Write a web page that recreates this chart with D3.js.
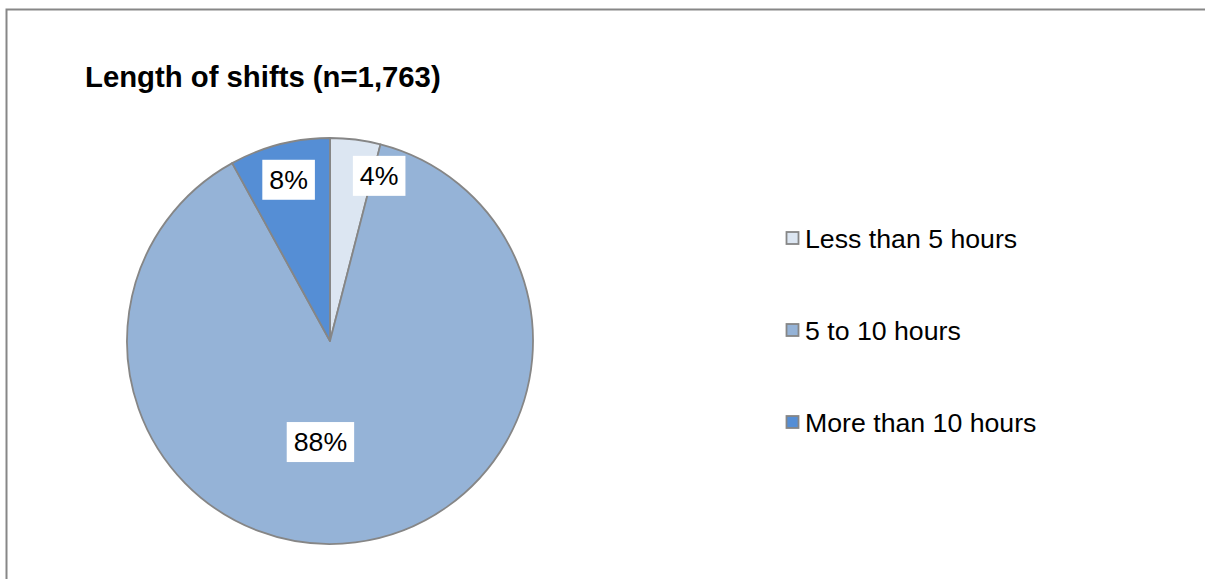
<!DOCTYPE html>
<html>
<head>
<meta charset="utf-8">
<script src="https://cdn.jsdelivr.net/npm/d3@7"></script>
<style>
  html, body { margin: 0; background: #fff; overflow: hidden; }
  svg { display: block; }
  text { font-family: Arial, "Liberation Sans", sans-serif; }
</style>
</head>
<body>
<div id="chart"></div>
<script>
// data
var categories = ["Less than 5 hours", "5 to 10 hours", "More than 10 hours"];
var values = [4, 88, 8];
var labels = ["4%", "88%", "8%"];
var colors = ["#dce6f2", "#95b3d7", "#558ed5"];

var width = 1205, height = 579;
var cx = 330, cy = 341, radius = 203;

var svg = d3.select("#chart")
    .append("svg")
    .attr("width", width)
    .attr("height", height);

// chart border: only top and left edges fall inside the picture
svg.append("path")
    .attr("d", "M6.5," + height + "V9.5H" + width)
    .attr("fill", "none")
    .attr("stroke", "#878787")
    .attr("stroke-width", 2);

svg.append("text")
    .attr("x", 85)
    .attr("y", 87)
    .attr("font-size", 29.3)
    .attr("font-weight", "bold")
    .attr("fill", "#000")
    .text("Length of shifts (n=1,763)");

var pie = d3.pie().sort(null).value(function (d) { return d; });
var arcs = pie(values);

var arc = d3.arc().innerRadius(0).outerRadius(radius);

var pieG = svg.append("g")
    .attr("transform", "translate(" + cx + "," + cy + ")");

pieG.selectAll("path")
    .data(arcs)
    .enter()
    .append("path")
    .attr("d", arc)
    .attr("fill", function (d, i) { return colors[i]; })
    .attr("stroke", "#868686")
    .attr("stroke-width", 1.8)
    .attr("stroke-linejoin", "round");

// data labels with white boxes
var labelSize = 26.7;
var lbl = pieG.selectAll(".lbl")
    .data(arcs)
    .enter()
    .append("g")
    .attr("class", "lbl")
    .attr("transform", function (d) {
        var span = d.endAngle - d.startAngle;
        var mid = (d.startAngle + d.endAngle) / 2;
        var r = span > Math.PI ? radius * 0.5 : radius * 0.82;
        // big slice: Excel nudges the label a bit past the middle
        if (span > Math.PI) mid += 0.22;
        var x = r * Math.sin(mid), y = -r * Math.cos(mid);
        return "translate(" + x + "," + y + ")";
    });

lbl.each(function (d, i) {
    var g = d3.select(this);
    var span = d.endAngle - d.startAngle;
    var t = g.append("text")
        .attr("font-size", labelSize)
        .attr("fill", "#000")
        .attr("dy", "0.35em")
        .text(labels[i]);
    var w = t.node().getComputedTextLength();
    // narrow slice: box starts at the anchor point
    var x0 = span < 0.3 ? 2 : -w / 2 - 7;
    t.attr("x", x0 + 7);
    g.insert("rect", "text")
        .attr("x", x0)
        .attr("y", -20)
        .attr("width", w + 14)
        .attr("height", 40)
        .attr("fill", "#fff");
});

// legend
var legendY = d3.scalePoint()
    .domain(categories)
    .range([238, 422]);

var legend = svg.append("g")
    .selectAll("g")
    .data(categories)
    .enter()
    .append("g")
    .attr("transform", function (d) { return "translate(786," + legendY(d) + ")"; });

legend.append("rect")
    .attr("x", 0.5)
    .attr("y", -6)
    .attr("width", 12)
    .attr("height", 12)
    .attr("fill", function (d, i) { return colors[i]; })
    .attr("stroke", "#868686")
    .attr("stroke-width", 1.8);

legend.append("text")
    .attr("x", 19)
    .attr("y", 9.5)
    .attr("font-size", labelSize)
    .attr("fill", "#000")
    .text(function (d) { return d; });
</script>
</body>
</html>
